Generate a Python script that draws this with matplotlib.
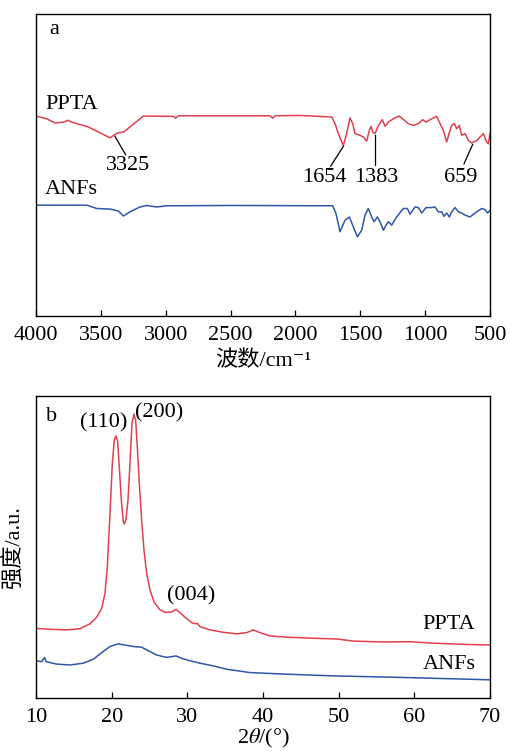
import matplotlib
matplotlib.use("Agg")
import matplotlib.pyplot as plt

plt.rcParams['font.family'] = ['Liberation Serif', 'DejaVu Serif', 'Noto Sans CJK SC']
plt.rcParams['mathtext.fontset'] = 'stix'

# ---------------- FTIR data (panel a) ----------------
ftir_ppta_wn = [4000, 3917.8, 3853.5, 3789.3, 3750.7, 3725.0, 3596.5, 3493.8, 3429.5, 3373.0,
                3326.7, 3275.3, 3172.5, 2941.2, 2923.3, 2902.7, 2838.4, 2196.0, 2175.4, 2154.9,
                1964.7, 1720.6, 1694.9, 1669.2, 1630.6, 1604.9, 1579.2, 1558.7, 1540.7, 1502.2,
                1476.5, 1450.8, 1430.2, 1417.4, 1404.5, 1386.5, 1360.8, 1330.0, 1309.4, 1283.7,
                1245.2, 1201.5, 1168.1, 1129.6, 1090.9, 1052.4, 1019.0, 993.3, 949.6, 911.1,
                885.4, 859.7, 834.0, 816.0, 795.5, 775.0, 756.9, 736.4, 718.4, 692.7,
                667.0, 641.3, 602.7, 551.3, 525.6, 512.8, 500.0]
ftir_ppta_y = [66.2, 65.3, 63.9, 64.2, 64.8, 64.2, 62.6, 60.4, 59.0, 60.6,
               60.9, 62.6, 66.2, 66.1, 65.5, 66.3, 66.3, 66.3, 65.5, 66.3,
               66.4, 65.9, 63.7, 60.4, 56.4, 60.4, 65.6, 63.7, 60.4, 59.8,
               59.3, 57.9, 61.5, 62.8, 60.9, 60.4, 63.1, 65.0, 62.8, 64.2,
               65.3, 66.2, 65.1, 63.7, 63.1, 63.7, 65.0, 64.2, 65.3, 66.1,
               63.7, 61.5, 57.6, 60.4, 63.1, 63.7, 62.0, 63.1, 59.8, 60.4,
               58.1, 57.3, 58.1, 60.4, 57.6, 57.0, 60.4]

ftir_anf_wn = [3994.9, 3609.4, 3532.3, 3429.5, 3365.3, 3326.7, 3275.3, 3198.2, 3146.8, 3069.7,
               2992.6, 2478.7, 1712.9, 1687.2, 1656.3, 1617.8, 1584.4, 1553.5, 1522.7, 1489.3,
               1463.6, 1437.9, 1412.2, 1394.2, 1368.5, 1347.9, 1322.3, 1301.7, 1283.7, 1258.0,
               1219.5, 1168.1, 1137.3, 1116.7, 1078.2, 1052.4, 1026.8, 993.3, 949.6, 923.9,
               898.2, 872.5, 854.5, 834.0, 813.4, 795.5, 769.8, 744.1, 718.4, 692.7,
               654.1, 615.6, 564.2, 538.5, 518.0, 500.0]
ftir_anf_y = [36.7, 36.7, 35.6, 35.4, 34.8, 33.1, 34.5, 36.1, 36.6, 36.1,
              36.5, 36.6, 36.5, 33.9, 27.9, 31.7, 32.8, 29.5, 26.2, 28.4,
              33.4, 35.6, 32.8, 31.2, 32.8, 31.2, 28.4, 30.1, 31.2, 30.1,
              32.8, 35.6, 35.6, 33.7, 36.1, 35.9, 34.1, 35.9, 35.9, 36.1,
              34.5, 34.5, 33.0, 34.1, 32.8, 34.5, 35.9, 34.5, 34.1, 33.4,
              32.8, 34.1, 35.6, 35.2, 34.1, 35.0]

ftir_ticks = [4000, 3500, 3000, 2500, 2000, 1500, 1000, 500]
ftir_peak_labels = ['3325', '1654', '1383', '659']

# ---------------- XRD data (panel b) ----------------
xrd_ppta_2t = [10.0, 11.85, 14.05, 15.81, 17.14, 18.02, 18.68, 19.12, 19.43, 19.78,
               20.09, 20.35, 20.57, 20.79, 21.01, 21.28, 21.54, 21.67, 21.89, 22.16,
               22.42, 22.69, 22.95, 23.17, 23.39, 23.66, 23.96, 24.27, 24.63, 25.07,
               25.59, 26.30, 27.05, 27.93, 28.50, 29.03, 29.69, 30.57, 31.15, 31.32,
               31.67, 33.00, 34.76, 36.52, 37.84, 38.72, 39.60, 40.93, 43.13, 47.09,
               49.74, 51.94, 55.90, 59.43, 62.51, 66.92, 70.0]
xrd_ppta_y = [23.1, 22.8, 22.6, 23.0, 24.6, 26.8, 29.7, 34.7, 43.5, 61.1,
              77.6, 85.4, 86.7, 84.8, 76.5, 65.5, 58.4, 57.6, 59.1, 65.5,
              77.6, 90.9, 93.9, 91.9, 83.1, 71.0, 58.9, 49.0, 41.3, 35.8,
              31.9, 29.4, 28.4, 28.5, 29.4, 28.3, 26.8, 25.0, 24.6, 24.8,
              23.7, 22.6, 21.8, 21.3, 21.7, 22.6, 21.7, 20.6, 20.2, 19.8,
              19.6, 18.9, 18.6, 18.7, 18.2, 17.8, 17.6]

xrd_anf_2t = [10.0, 10.75, 10.97, 11.15, 11.32, 12.73, 14.49, 16.26, 17.58, 18.68,
              19.78, 20.88, 21.76, 22.86, 23.96, 24.85, 25.95, 27.27, 28.50, 29.25,
              30.35, 31.67, 33.44, 35.20, 38.28, 42.69, 49.29, 58.11, 70.0]
xrd_anf_y = [12.4, 12.1, 12.9, 13.5, 12.1, 11.3, 11.0, 11.6, 12.9, 15.1,
             17.1, 18.0, 17.6, 17.1, 16.9, 15.7, 14.3, 13.5, 14.0, 13.2,
             12.4, 11.6, 10.7, 9.6, 8.5, 8.0, 7.4, 6.9, 6.1]

xrd_ticks = [10, 20, 30, 40, 50, 60, 70]
xrd_peak_labels = ['(110)', '(200)', '(004)']

RED = '#E0404F'
BLUE = '#2D58A6'
FS = 16

fig = plt.figure(figsize=(5.09, 7.51), dpi=100)
ax1 = fig.add_axes([0.0707, 0.5792, 0.8920, 0.4022])
ax2 = fig.add_axes([0.0707, 0.0702, 0.8920, 0.4029])

# ---- panel a ----
ax1.plot(ftir_ppta_wn, ftir_ppta_y, color=RED, lw=1.1)
ax1.plot(ftir_anf_wn, ftir_anf_y, color=BLUE, lw=1.1)
ax1.set_xlim(4000, 500)
ax1.set_ylim(0, 100)
ax1.set_xticks(ftir_ticks)
ax1.set_xticklabels([str(t) for t in ftir_ticks])
ax1.set_yticks([])
ax1.tick_params(axis='x', direction='in', length=4, width=0.9, labelsize=FS, pad=7, top=False)
ax1.set_xlabel('波数/cm⁻¹', fontsize=FS, labelpad=4)
ax1.text(3897, 95.0, 'a', fontsize=FS, ha='left', va='center')
ax1.text(3930, 69.9, 'PPTA', fontsize=FS, ha='left', va='center')
ax1.text(3930, 41.9, 'ANFs', fontsize=FS, ha='left', va='center')

ann = [  # (label, line start x, y, line end x, y, text x, y)
    (ftir_peak_labels[0], 3391, 59.5, 3309, 53.4, 3288, 49.8),
    (ftir_peak_labels[1], 1630.6, 56.2, 1728.3, 49.6, 1779.7, 46.0),
    (ftir_peak_labels[2], 1386.5, 59.8, 1386.5, 49.9, 1378.8, 46.0),
    (ftir_peak_labels[3], 633.6, 56.8, 700.4, 50.4, 723.4, 46.0),
]
for lab, x0, y0, x1, y1, tx, ty in ann:
    ax1.plot([x0, x1], [y0, y1], color='black', lw=0.9)
    ax1.text(tx, ty, lab, fontsize=FS, ha='center', va='center')

# ---- panel b ----
ax2.plot(xrd_ppta_2t, xrd_ppta_y, color=RED, lw=1.1)
ax2.plot(xrd_anf_2t, xrd_anf_y, color=BLUE, lw=1.1)
ax2.set_xlim(10, 70)
ax2.set_ylim(0, 100)
ax2.set_xticks(xrd_ticks)
ax2.set_xticklabels([str(t) for t in xrd_ticks])
ax2.set_yticks([])
ax2.tick_params(axis='x', direction='in', length=4, width=0.9, labelsize=FS, pad=7, top=False)
ax2.set_xlabel(r'2$\theta$/(°)', fontsize=FS, labelpad=0)
ax2.set_ylabel('强度/a.u.', fontsize=FS, labelpad=8)
ax2.text(12.07, 93.1, 'b', fontsize=FS, ha='center', va='center')
ax2.text(18.9, 90.9, xrd_peak_labels[0], fontsize=FS, ha='center', va='center')
ax2.text(26.3, 94.2, xrd_peak_labels[1], fontsize=FS, ha='center', va='center')
ax2.text(30.44, 33.8, xrd_peak_labels[2], fontsize=FS, ha='center', va='center')
ax2.text(64.5, 24.4, 'PPTA', fontsize=FS, ha='center', va='center')
ax2.text(64.6, 11.0, 'ANFs', fontsize=FS, ha='center', va='center')

for ax in (ax1, ax2):
    for s in ax.spines.values():
        s.set_linewidth(1.0)
        s.set_color('black')

fig.savefig('out.png', dpi=100)
